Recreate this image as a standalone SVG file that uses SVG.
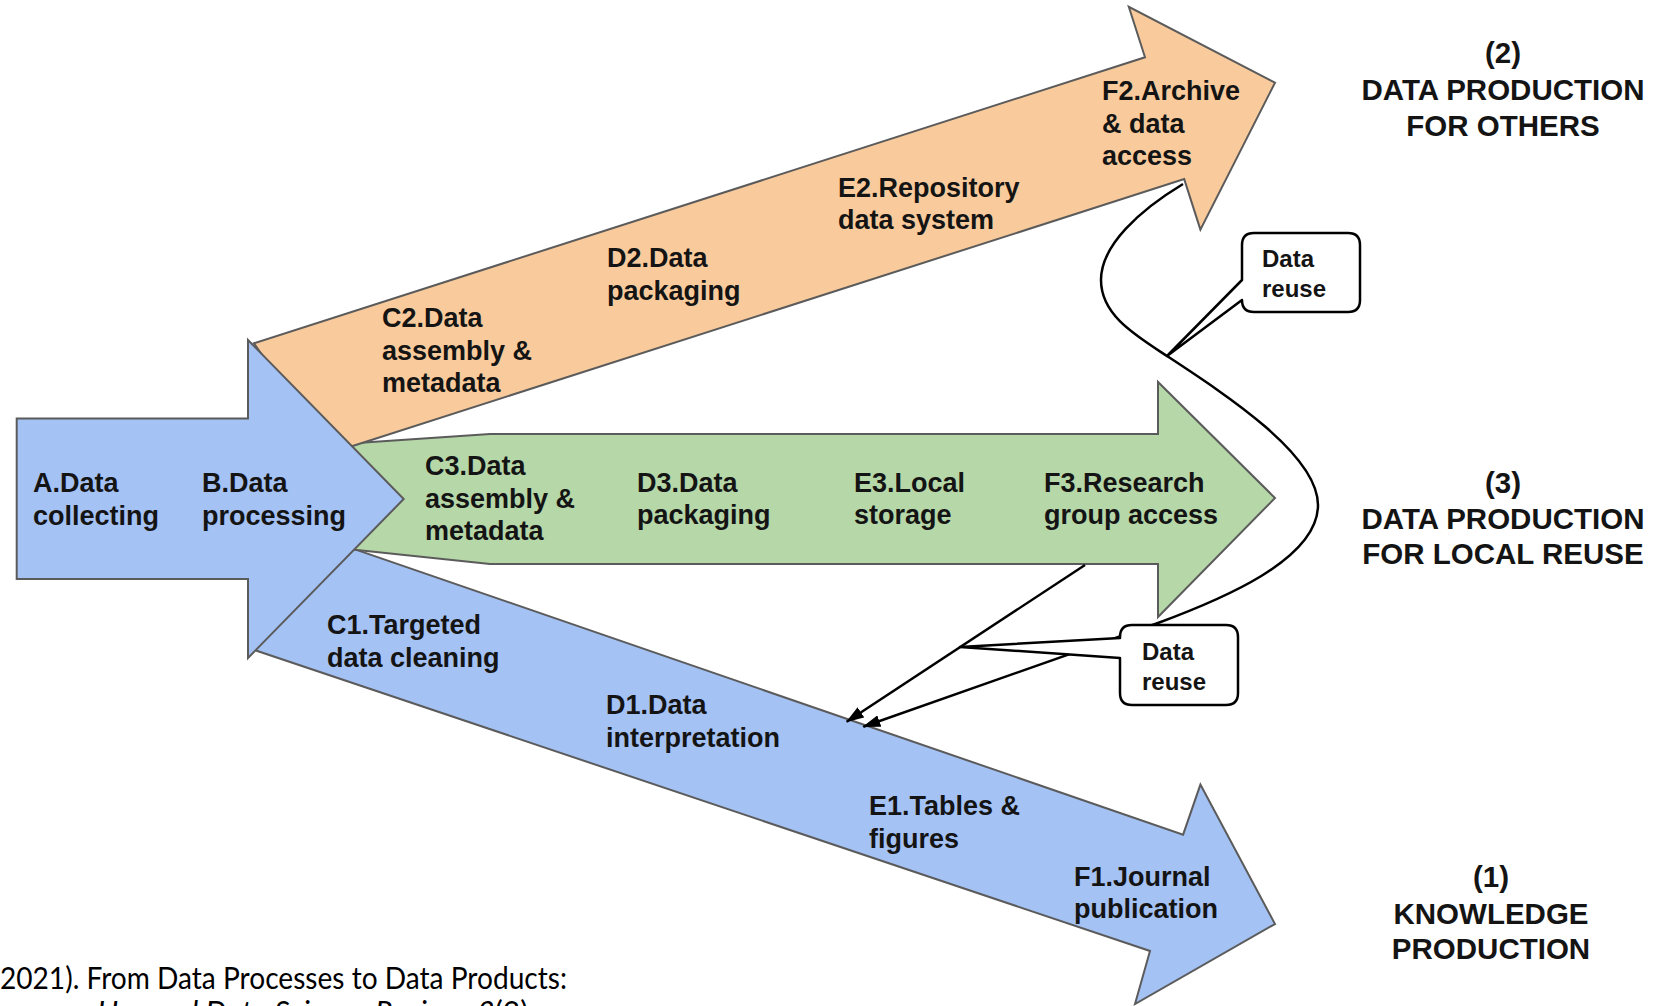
<svg xmlns="http://www.w3.org/2000/svg" width="1657" height="1006" viewBox="0 0 1657 1006">
  <style>
    .shape { stroke: #5b5b5b; stroke-width: 2; stroke-linejoin: miter; }
    .blue { fill: #a4c2f4; }
    .orange { fill: #f9cb9c; }
    .green { fill: #b6d7a8; }
    .lbl { font-family: "Liberation Sans", Arial, sans-serif; font-weight: bold; font-size: 27px; fill: #141414; }
    .out { font-family: "Liberation Sans", Arial, sans-serif; font-weight: bold; font-size: 29.5px; fill: #141414; text-anchor: middle; }
    .conn { fill: none; stroke: #000; stroke-width: 2.5; }
    .bubble { fill: #fff; stroke: #000; stroke-width: 2.5; stroke-linejoin: round; }
    .blbl { font-family: "Liberation Sans", Arial, sans-serif; font-weight: bold; font-size: 24px; fill: #141414; }
    .cite { font-family: Lato, "Liberation Sans", sans-serif; font-size: 30px; fill: #000; }
  </style>
  <defs>
    <marker id="head" markerUnits="userSpaceOnUse" viewBox="0 0 18 12" refX="17" refY="6" markerWidth="18" markerHeight="12" orient="auto">
      <path d="M0,0 L18,6 L0,12 Z" fill="#000"/>
    </marker>
  </defs>

  <rect width="1657" height="1006" fill="#fff"/>

  <!-- (1) knowledge production branch -->
  <g id="branch-knowledge">
    <polygon class="shape blue" points="350,547.6 1183.1,834.7 1200.4,784.6 1275,924 1135,1004 1150,951 252,649.2"/>
    <text class="lbl" x="327" y="634">C1.Targeted</text>
    <text class="lbl" x="327" y="667">data cleaning</text>
    <text class="lbl" x="606" y="714">D1.Data</text>
    <text class="lbl" x="606" y="747">interpretation</text>
    <text class="lbl" x="869" y="815">E1.Tables &amp;</text>
    <text class="lbl" x="869" y="848">figures</text>
    <text class="lbl" x="1074" y="886">F1.Journal</text>
    <text class="lbl" x="1074" y="918">publication</text>
  </g>

  <!-- (3) local reuse branch -->
  <g id="branch-local">
    <polygon class="shape green" points="345,445 357,443 490,434 1158,434 1158,382 1275,498 1158,617 1158,564 490,564 357,550 345,549"/>
    <text class="lbl" x="425" y="475">C3.Data</text>
    <text class="lbl" x="425" y="507.5">assembly &amp;</text>
    <text class="lbl" x="425" y="540">metadata</text>
    <text class="lbl" x="637" y="491.5">D3.Data</text>
    <text class="lbl" x="637" y="524">packaging</text>
    <text class="lbl" x="854" y="491.5">E3.Local</text>
    <text class="lbl" x="854" y="524">storage</text>
    <text class="lbl" x="1044" y="491.5">F3.Research</text>
    <text class="lbl" x="1044" y="524">group access</text>
  </g>

  <!-- (2) production for others branch -->
  <g id="branch-others">
    <polygon class="shape orange" points="254,343.3 1145,57.3 1128.8,6.8 1275,82.7 1200.4,229.6 1184.2,179.1 330,453.3"/>
    <text class="lbl" x="382" y="327">C2.Data</text>
    <text class="lbl" x="382" y="359.5">assembly &amp;</text>
    <text class="lbl" x="382" y="392">metadata</text>
    <text class="lbl" x="607" y="267">D2.Data</text>
    <text class="lbl" x="607" y="300">packaging</text>
    <text class="lbl" x="838" y="197">E2.Repository</text>
    <text class="lbl" x="838" y="229">data system</text>
    <text class="lbl" x="1102" y="100">F2.Archive</text>
    <text class="lbl" x="1102" y="132.5">&amp; data</text>
    <text class="lbl" x="1102" y="165">access</text>
  </g>

  <!-- shared collecting / processing stage -->
  <g id="stage-ab">
    <polygon class="shape blue" points="16.7,418.5 248,418.5 248,340 403.7,499 248,658 248,579 16.7,579"/>
    <text class="lbl" x="33" y="492">A.Data</text>
    <text class="lbl" x="33" y="525">collecting</text>
    <text class="lbl" x="202" y="492">B.Data</text>
    <text class="lbl" x="202" y="525">processing</text>
  </g>

  <!-- reuse connectors -->
  <g id="connectors">
    <path class="conn" d="M1085,565 L846.7,721.7" marker-end="url(#head)"/>
    <path class="conn" d="M1183,184 C1140,210 1101,245 1101,280 C1101,315 1135,335 1167,356 C1228,396 1318,455 1318,505 C1318,560 1220,600 1158,623 L863.3,726.7" marker-end="url(#head)"/>
  </g>

  <!-- reuse callouts -->
  <g id="callout-upper">
    <path class="bubble" d="M1254,233 H1348 Q1360,233 1360,245 V300 Q1360,312 1348,312 H1254 Q1242,312 1242,300 L1167,356 L1242,280 V245 Q1242,233 1254,233 Z"/>
    <text class="blbl" x="1262" y="267">Data</text>
    <text class="blbl" x="1262" y="297">reuse</text>
  </g>
  <g id="callout-lower">
    <path class="bubble" d="M1132,625 H1226 Q1238,625 1238,637 V693 Q1238,705 1226,705 H1132 Q1120,705 1120,693 V658 L960,647 L1120,638 V637 Q1120,625 1132,625 Z"/>
    <text class="blbl" x="1142" y="660">Data</text>
    <text class="blbl" x="1142" y="690">reuse</text>
  </g>

  <!-- outcome labels -->
  <g id="outcome-others">
    <text class="out" x="1503" y="63">(2)</text>
    <text class="out" x="1503" y="100">DATA PRODUCTION</text>
    <text class="out" x="1503" y="136">FOR OTHERS</text>
  </g>
  <g id="outcome-local">
    <text class="out" x="1503" y="493">(3)</text>
    <text class="out" x="1503" y="529">DATA PRODUCTION</text>
    <text class="out" x="1503" y="564">FOR LOCAL REUSE</text>
  </g>
  <g id="outcome-knowledge">
    <text class="out" x="1491" y="887">(1)</text>
    <text class="out" x="1491" y="924">KNOWLEDGE</text>
    <text class="out" x="1491" y="959">PRODUCTION</text>
  </g>

  <!-- source reference -->
  <g id="citation">
    <text class="cite" x="0" y="989" textLength="567" lengthAdjust="spacingAndGlyphs">2021). From Data Processes to Data Products:</text>
    <text class="cite" x="97" y="1023"><tspan font-style="italic">Harvard Data Science Review</tspan>, <tspan font-style="italic">3</tspan>(3).</text>
  </g>
</svg>
